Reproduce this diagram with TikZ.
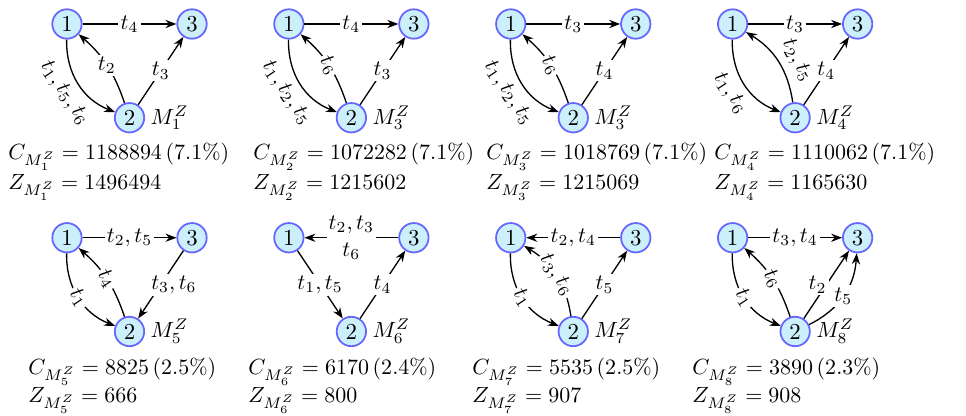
\documentclass[tikz,border=0pt]{standalone}
\usepackage{amsmath,amssymb}
\usepackage{tikz}
\usetikzlibrary{arrows.meta,positioning,calc}

\begin{document}
\begin{tikzpicture}[
    font=\fontsize{10.4}{12.5}\selectfont,
    st/.style={circle, draw=blue!60, fill=cyan!20, thick, inner sep=1pt, minimum size=0.47cm},
    arr/.style={-{Stealth[length=5pt]}, semithick},
    lbl/.style={fill=white, inner sep=1pt},
    stat/.style={anchor=base west, inner sep=0pt}
]
\useasboundingbox (-1.072,0.384) rectangle (14.384,-6.272);

% the three states of each net
\foreach \n/\x/\y/\m in {a/0/0/1, b/3.55/0/3, c/7.1/0/3, d/10.65/0/4, e/0/-3.42/5, f/3.55/-3.42/6, g/7.1/-3.42/7, h/10.65/-3.42/8} {
    \node[st] (\n1) at (\x,\y) {1};
    \node[st] (\n3) at (\x+2,\y) {3};
    \node[st, label={[label distance=-1pt]right:$M_{\m}^Z$}] (\n2) at (\x+1,\y-1.5) {2};
}

% top row
\draw[arr] (a1) -- node[lbl] {$t_4$} (a3);
\draw[arr] (a1) to[bend right=35] node[sloped, below] {$t_1, t_5, t_6$} (a2);
\draw[arr] (a2) to[bend right=15] node[lbl] {$t_2$} (a1);
\draw[arr] (a2) -- node[lbl] {$t_3$} (a3);

\draw[arr] (b1) -- node[lbl] {$t_4$} (b3);
\draw[arr] (b1) to[bend right=35] node[sloped, below] {$t_1, t_2, t_5$} (b2);
\draw[arr] (b2) to[bend right=15] node[lbl, sloped] {$t_6$} (b1);
\draw[arr] (b2) -- node[lbl] {$t_3$} (b3);

\draw[arr] (c1) -- node[lbl] {$t_3$} (c3);
\draw[arr] (c1) to[bend right=35] node[sloped, below] {$t_1, t_2, t_5$} (c2);
\draw[arr] (c2) to[bend right=15] node[lbl, sloped] {$t_6$} (c1);
\draw[arr] (c2) -- node[lbl] {$t_4$} (c3);

\draw[arr] (d1) -- node[lbl] {$t_3$} (d3);
\draw[arr] (d1) to[bend right=35] node[sloped, below] {$t_1, t_6$} (d2);
\draw[arr] (d2) to[bend right=25] node[sloped, above, pos=0.4] {$t_2, t_5$} (d1);
\draw[arr] (d2) -- node[lbl] {$t_4$} (d3);

% bottom row
\draw[arr] (e1) -- node[lbl] {$t_2, t_5$} (e3);
\draw[arr] (e1) to[bend right=35] node[lbl, sloped] {$t_1$} (e2);
\draw[arr] (e2) to[bend right=15] node[lbl, sloped] {$t_4$} (e1);
\draw[arr] (e3) -- node[lbl, xshift=6pt] {$t_3, t_6$} (e2);

\draw[arr] (f3) -- node[lbl, align=center] {$t_2, t_3$\\$t_6$} (f1);
\draw[arr] (f1) -- node[lbl] {$t_1, t_5$} (f2);
\draw[arr] (f2) -- node[lbl] {$t_4$} (f3);

\draw[arr] (g3) -- node[lbl] {$t_2, t_4$} (g1);
\draw[arr] (g1) to[bend right=35] node[lbl, sloped] {$t_1$} (g2);
\draw[arr] (g2) to[bend right=25] node[lbl, sloped] {$t_3, t_6$} (g1);
\draw[arr] (g2) -- node[lbl] {$t_5$} (g3);

\draw[arr] (h1) -- node[lbl] {$t_3, t_4$} (h3);
\draw[arr] (h1) to[bend right=35] node[lbl, sloped] {$t_1$} (h2);
\draw[arr] (h2) to[bend right=15] node[lbl, sloped] {$t_6$} (h1);
\draw[arr] (h2) -- node[lbl, xshift=-4pt] {$t_2$} (h3);
\draw[arr] (h2) to[bend right=30] node[lbl] {$t_5$} (h3);

% costs
\node[stat] (Ca) at (-0.944,-2.176) {$C_{M_1^Z} = 1188894\,(7.1\%)$};
\node[stat] (Za) at (-0.944,-2.656) {$Z_{M_1^Z} = 1496494$};
\node[stat] (Cb) at (2.976,-2.176) {$C_{M_2^Z} = 1072282\,(7.1\%)$};
\node[stat] (Zb) at (2.976,-2.656) {$Z_{M_2^Z} = 1215602$};
\node[stat] (Cc) at (6.704,-2.176) {$C_{M_3^Z} = 1018769\,(7.1\%)$};
\node[stat] (Zc) at (6.704,-2.656) {$Z_{M_3^Z} = 1215069$};
\node[stat] (Cd) at (10.352,-2.176) {$C_{M_4^Z} = 1110062\,(7.1\%)$};
\node[stat] (Zd) at (10.352,-2.656) {$Z_{M_4^Z} = 1165630$};

\node[stat] (Ce) at (-0.624,-5.616) {$C_{M_5^Z} = 8825\,(2.5\%)$};
\node[stat] (Ze) at (-0.624,-6.064) {$Z_{M_5^Z} = 666$};
\node[stat] (Cf) at (2.896,-5.616) {$C_{M_6^Z} = 6170\,(2.4\%)$};
\node[stat] (Zf) at (2.896,-6.064) {$Z_{M_6^Z} = 800$};
\node[stat] (Cg) at (6.48,-5.616) {$C_{M_7^Z} = 5535\,(2.5\%)$};
\node[stat] (Zg) at (6.48,-6.064) {$Z_{M_7^Z} = 907$};
\node[stat] (Ch) at (10.0,-5.616) {$C_{M_8^Z} = 3890\,(2.3\%)$};
\node[stat] (Zh) at (10.0,-6.064) {$Z_{M_8^Z} = 908$};
\end{tikzpicture}
\end{document}
